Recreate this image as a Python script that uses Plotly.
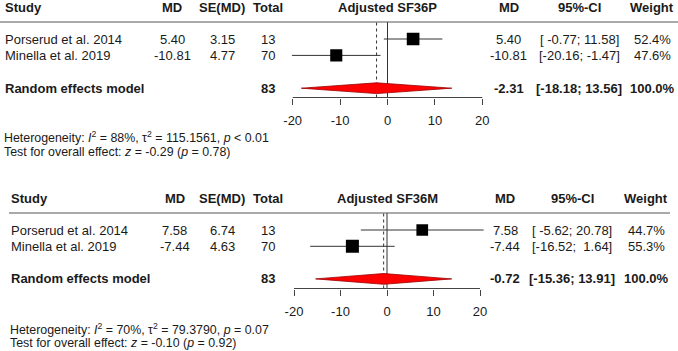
import plotly.graph_objects as go

W, H = 678, 351

# ---------------- data ----------------
studies = ["Porserud et al. 2014", "Minella et al. 2019"]
totals = [13, 70]
total_all = 83
re_label = "Random effects model"
tick_vals = [-20, -10, 0, 10, 20]

# Panel 1: Adjusted SF36P
p_title = "Adjusted SF36P"
p_md = [5.40, -10.81]
p_se = [3.15, 4.77]
p_lo = [-0.77, -20.16]
p_hi = [11.58, -1.47]
p_w = [52.4, 47.6]
p_re = [-2.31, -18.18, 13.56]
p_het = ["88%", "115.1561", "&lt; 0.01"]
p_test = ["-0.29", "0.78"]

# Panel 2: Adjusted SF36M
m_title = "Adjusted SF36M"
m_md = [7.58, -7.44]
m_se = [6.74, 4.63]
m_lo = [-5.62, -16.52]
m_hi = [20.78, 1.64]
m_w = [44.7, 55.3]
m_re = [-0.72, -15.36, 13.91]
m_het = ["70%", "79.3790", "= 0.07"]
m_test = ["-0.10", "0.92"]

rows = [1, 2]
re_row = 4

# ---------------- layout geometry (pixels) ----------------
panels = [
    dict(title=p_title, md=p_md, se=p_se, lo=p_lo, hi=p_hi, w=p_w, re=p_re, het=p_het, test=p_test,
         header_y=7, line_y=22, line_x=(0, 678), row_a=22.6, row_b=16.4, axis_y=97.5,
         zero_px=387.5, ppu=4.74, het_y=(137, 152), left_x=3,
         c_md=172, c_se=222, c_tot=268, r_md=508.5, r_ci=579, r_w=652),
    dict(title=m_title, md=m_md, se=m_se, lo=m_lo, hi=m_hi, w=m_w, re=m_re, het=m_het, test=m_test,
         header_y=199, line_y=213, line_x=(9, 670), row_a=213.7, row_b=16.3, axis_y=288.5,
         zero_px=387, ppu=4.65, het_y=(329, 343), left_x=9,
         c_md=175, c_se=222, c_tot=268, r_md=505, r_ci=572, r_w=646),
]

FONT = "Liberation Sans, Arial, sans-serif"
TXT = "#1a1a1a"

fig = go.Figure()
annotations = []
shapes = []
layout_axes = {}


def px_x(p):
    return p / W


def px_y(p):
    return 1 - p / H


def ann(x, y, text, anchor="center", size=13, bold=False):
    if bold:
        text = "<b>" + text + "</b>"
    annotations.append(dict(x=px_x(x), y=px_y(y), xref="paper", yref="paper", text=text,
                            showarrow=False, xanchor=anchor, yanchor="middle",
                            font=dict(family=FONT, size=size, color=TXT)))


def fmt_ci(lo, hi):
    s = "[" + f"{lo:6.2f}" + "; " + f"{hi:5.2f}" + "]"
    return s.replace(" ", "\u00a0")


for i, P in enumerate(panels):
    sfx = "" if i == 0 else str(i + 1)
    xa, ya = "x" + sfx, "y" + sfx
    # axis ranges from pixel geometry
    xmin = (0 - P["zero_px"]) / P["ppu"]
    xmax = (W - P["zero_px"]) / P["ppu"]
    ytop = (P["line_y"] - P["row_a"]) / P["row_b"]
    ybot = (P["axis_y"] - P["row_a"]) / P["row_b"]
    layout_axes["xaxis" + sfx] = dict(domain=[0, 1], range=[xmin, xmax], anchor=ya,
                                      showgrid=False, zeroline=False, showline=False,
                                      ticks="outside", ticklen=6, tickwidth=1, tickcolor="#444",
                                      tickvals=tick_vals, ticktext=[str(v) for v in tick_vals],
                                      ticklabelstandoff=5,
                                      tickfont=dict(family=FONT, size=13, color=TXT))
    layout_axes["yaxis" + sfx] = dict(domain=[1 - P["axis_y"] / H, 1 - P["line_y"] / H],
                                      range=[ybot, ytop], anchor=xa, visible=False)

    # CI lines + squares
    fig.add_trace(go.Scatter(
        x=P["md"], y=rows, xaxis=xa, yaxis=ya, mode="markers",
        marker=dict(symbol="square", color="black", opacity=1,
                    line=dict(width=0, color="black"),
                    size=[1.75 * (w ** 0.5) for w in P["w"]]),
        error_x=dict(type="data", symmetric=False,
                     array=[h - m for h, m in zip(P["hi"], P["md"])],
                     arrayminus=[m - l for m, l in zip(P["md"], P["lo"])],
                     width=0, thickness=1, color="#333"),
        showlegend=False, hoverinfo="skip"))

    # diamond
    md, lo, hi = P["re"]
    h = 5.4 / P["row_b"]
    fig.add_trace(go.Scatter(
        x=[lo, md, hi, md, lo], y=[re_row, re_row - h, re_row, re_row + h, re_row],
        xaxis=xa, yaxis=ya, mode="lines", fill="toself", fillcolor="#ff0000",
        line=dict(color="#9a0000", width=0.8), showlegend=False, hoverinfo="skip"))

    # zero line, dotted RE line, axis line
    shapes.append(dict(type="line", xref=xa, yref=ya + " domain", x0=0, x1=0, y0=0, y1=1,
                       line=dict(color="#333", width=1), layer="below"))
    shapes.append(dict(type="line", xref=xa, yref=ya + " domain", x0=md, x1=md, y0=0, y1=1,
                       line=dict(color="#333", width=1, dash="dot"), layer="below"))
    shapes.append(dict(type="line", xref=xa, yref=ya + " domain", x0=tick_vals[0], x1=tick_vals[-1],
                       y0=0, y1=0, line=dict(color="#444", width=1)))
    # header rule
    shapes.append(dict(type="line", xref="paper", yref="paper",
                       x0=px_x(P["line_x"][0]), x1=px_x(P["line_x"][1]),
                       y0=px_y(P["line_y"]), y1=px_y(P["line_y"]),
                       line=dict(color="#555", width=1)))

    # header texts
    hy = P["header_y"]
    ann(P["left_x"], hy, "Study", "left", bold=True)
    ann(P["c_md"], hy, "MD", bold=True)
    ann(P["c_se"], hy, "SE(MD)", bold=True)
    ann(P["c_tot"], hy, "Total", bold=True)
    ann(P["zero_px"], hy, P["title"], bold=True)
    ann(P["r_md"], hy, "MD", bold=True)
    ann(P["r_ci"], hy, "95%-CI", bold=True)
    ann(P["r_w"], hy, "Weight", bold=True)

    # study rows
    for k, r in enumerate(rows):
        ry = P["row_a"] + P["row_b"] * r
        ann(P["left_x"], ry, studies[k], "left")
        ann(P["c_md"], ry, f"{P['md'][k]:.2f}")
        ann(P["c_se"], ry, f"{P['se'][k]:.2f}")
        ann(P["c_tot"], ry, str(totals[k]))
        ann(P["r_md"], ry, f"{P['md'][k]:.2f}")
        ann(P["r_ci"], ry, fmt_ci(P["lo"][k], P["hi"][k]))
        ann(P["r_w"], ry, f"{P['w'][k]:.1f}%")

    # RE row
    ry = P["row_a"] + P["row_b"] * re_row
    ann(P["left_x"], ry, re_label, "left", bold=True)
    ann(P["c_tot"], ry, str(total_all), bold=True)
    ann(P["r_md"], ry, f"{md:.2f}", bold=True)
    ann(P["r_ci"], ry, fmt_ci(lo, hi), bold=True)
    ann(P["r_w"], ry, f"{sum(P['w']):.1f}%", bold=True)

    # heterogeneity
    het = P["het"]
    ann(P["left_x"] - 1, P["het_y"][0],
        f"Heterogeneity: <i>I</i><sup>2</sup> = {het[0]}, τ<sup>2</sup> = {het[1]}, <i>p</i> {het[2]}",
        "left", size=12.4)
    ann(P["left_x"] - 1, P["het_y"][1],
        f"Test for overall effect: <i>z</i> = {P['test'][0]} (<i>p</i> = {P['test'][1]})",
        "left", size=12.4)

fig.update_layout(width=W, height=H, margin=dict(l=0, r=0, t=0, b=0),
                  paper_bgcolor="white", plot_bgcolor="rgba(0,0,0,0)",
                  annotations=annotations, shapes=shapes, **layout_axes)

fig.write_html("out.html")
